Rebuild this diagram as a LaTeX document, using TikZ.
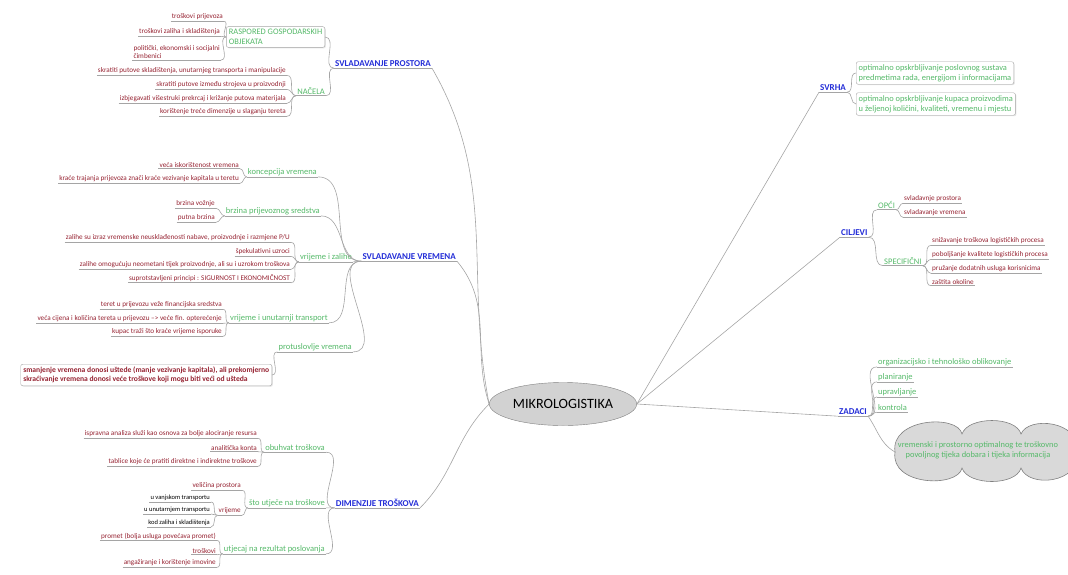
\documentclass[tikz,border=0pt]{standalone}
\usepackage{fontspec}
\setmainfont{Carlito}
\usepackage{tikz}
\usetikzlibrary{calc,positioning,shapes,shadows}
\definecolor{branchblue}{RGB}{35,45,215}
\definecolor{topicgreen}{RGB}{85,185,105}
\definecolor{detailred}{RGB}{150,35,50}
\definecolor{linegray}{RGB}{165,165,165}

\begin{document}
\begin{tikzpicture}[x=1pt, y=-1pt, every node/.style={inner xsep=1pt, inner ysep=1pt}]
      \tikzset{
	  link/.style={draw=linegray, line width=0.6pt},
	  underlined/.style={append after command={(\tikzlastnode.south west) edge[link] (\tikzlastnode.south east)}},
	  root/.style={ellipse, draw=gray, fill=gray!35, minimum width=113, minimum height=43, inner sep=2pt, font=\fontsize{14.2}{16}\selectfont},
	  branch/.style={underlined, text=branchblue, font=\fontsize{9}{11}\selectfont\bfseries},
	  topic/.style={underlined, text=topicgreen, font=\fontsize{8.5}{10}\selectfont},
	  detail/.style={underlined, text=detailred, align=left, font=\fontsize{7.2}{8.6}\selectfont},
	  minor/.style={underlined, text=black, font=\fontsize{6.5}{7.5}\selectfont},
	  topicbox/.style={rectangle, rounded corners=2pt, draw=linegray, fill=white, drop shadow={opacity=0.2, shadow xshift=1pt, shadow yshift=-1pt}, inner sep=2.5pt, align=left, text=topicgreen, font=\fontsize{8.4}{10.2}\selectfont},
	  notebox/.style={topicbox, text=detailred, font=\fontsize{7.6}{9.6}\selectfont\bfseries},
	  cloudpath/.style={draw=gray, fill=gray!30, line width=0.6pt},
	  ideatext/.style={align=center, text=topicgreen, font=\fontsize{8.4}{10.2}\selectfont}
      }
      \useasboundingbox (0,0) rectangle (1068,574);

      \node at (563,404) [root] (root) {MIKROLOGISTIKA};

      \node at (432,64) [branch, anchor=east] (prostora) {SVLADAVANJE PROSTORA};
      \node at (325,37) [topicbox, anchor=east] (raspored) {RASPORED GOSPODARSKIH\\OBJEKATA};
      \node at (224,17) [detail, anchor=east] (ra1) {troškovi prijevoza};
      \node at (221,32) [detail, anchor=east] (ra2) {troškovi zaliha i skladištenja};
      \node at (221,52) [detail, anchor=east] (ra3) {politički, ekonomski i socijalni\\čimbenici};
      \node at (326,91) [topic, anchor=east] (nacela) {NAČELA};
      \node at (287,71) [detail, anchor=east] (n1) {skratiti putove skladištenja, unutarnjeg transporta i manipulacije};
      \node at (287,85) [detail, anchor=east] (n2) {skratiti putove između strojeva u proizvodnji};
      \node at (287,99) [detail, anchor=east] (n3) {izbjegavati višestruki prekrcaj i križanje putova materijala};
      \node at (287,112) [detail, anchor=east] (n4) {korištenje treće dimenzije u slaganju tereta};

      \node at (457,257) [branch, anchor=east] (vremena) {SVLADAVANJE VREMENA};
      \node at (318,172) [topic, anchor=east] (koncepcija) {koncepcija vremena};
      \node at (240,165) [detail, anchor=east] (k1) {veća iskorištenost vremena};
      \node at (240,179) [detail, anchor=east] (k2) {kraće trajanja prijevoza znači kraće vezivanje kapitala u teretu};
      \node at (321,211) [topic, anchor=east] (brzina) {brzina prijevoznog sredstva};
      \node at (216,204) [detail, anchor=east] (b1) {brzina vožnje};
      \node at (216,218) [detail, anchor=east] (b2) {putna brzina};
      \node at (353,257) [topic, anchor=east] (zalihe) {vrijeme i zalihe};
      \node at (291,238) [detail, anchor=east] (z1) {zalihe su izraz vremenske neusklađenosti nabave, proizvodnje i razmjene P/U};
      \node at (291,252) [detail, anchor=east] (z2) {špekulativni uzroci};
      \node at (291,265) [detail, anchor=east] (z3) {zalihe omogućuju neometani tijek proizvodnje, ali su i uzrokom troškova};
      \node at (291,278) [detail, anchor=east] (z4) {suprotstavljeni principi : SIGURNOST I EKONOMIČNOST};
      \node at (329,318) [topic, anchor=east] (transport) {vrijeme i unutarnji transport};
      \node at (223,305) [detail, anchor=east] (u1) {teret u prijevozu veže financijska sredstva};
      \node at (223,319) [detail, anchor=east] (u2) {veća cijena i količina tereta u prijevozu --> veće fin. opterećenje};
      \node at (223,332) [detail, anchor=east] (u3) {kupac traži što kraće vrijeme isporuke};
      \node at (353,347) [topic, anchor=east] (protuslovlje) {protuslovlje vremena};
      \node at (272,375) [notebox, anchor=east] (ustede) {smanjenje vremena donosi uštede (manje vezivanje kapitala), ali prekomjerno\\skraćivanje vremena donosi veće troškove koji mogu biti veći od ušteda};

      \node at (420,503) [branch, anchor=east] (troskovi) {DIMENZIJE TROŠKOVA};
      \node at (326,448) [topic, anchor=east] (obuhvat) {obuhvat troškova};
      \node at (258,434) [detail, anchor=east] (o1) {ispravna analiza služi kao osnova za bolje alociranje resursa};
      \node at (258,448) [detail, anchor=east] (o2) {analitička konta};
      \node at (258,462) [detail, anchor=east] (o3) {tablice koje će pratiti direktne i indirektne troškove};
      \node at (326,503) [topic, anchor=east] (utjece) {što utječe na troškove};
      \node at (242,486) [detail, anchor=east] (w1) {veličina prostora};
      \node at (242,511) [detail, anchor=east] (vrijeme) {vrijeme};
      \node at (211,498) [minor, anchor=east] (v1) {u vanjskom transportu};
      \node at (211,510) [minor, anchor=east] (v2) {u unutarnjem transportu};
      \node at (211,523) [minor, anchor=east] (v3) {kod zaliha i skladištenja};
      \node at (326,549) [topic, anchor=east] (rezultat) {utjecaj na rezultat poslovanja};
      \node at (217,536) [detail, anchor=east] (r1) {promet (bolja usluga povećava promet)};
      \node at (217,551) [detail, anchor=east] (r2) {troškovi};
      \node at (217,563) [detail, anchor=east] (r3) {angažiranje i korištenje imovine};

      \node at (819,88) [branch, anchor=west] (svrha) {SVRHA};
      \node at (856,73) [topicbox, anchor=west] (s1) {optimalno opskrbljivanje poslovnog sustava\\predmetima rada, energijom i informacijama};
      \node at (856,104) [topicbox, anchor=west] (s2) {optimalno opskrbljivanje kupaca proizvodima\\u željenoj količini, kvaliteti, vremenu i mjestu};

      \node at (840,233) [branch, anchor=west] (ciljevi) {CILJEVI};
      \node at (877,205) [topic, anchor=west] (opci) {OPĆI};
      \node at (903,199) [detail, anchor=west] (c1) {svladavnje prostora};
      \node at (903,213) [detail, anchor=west] (c2) {svladavanje vremena};
      \node at (883,261) [topic, anchor=west] (specificni) {SPECIFIČNI};
      \node at (931,241) [detail, anchor=west] (p1) {snižavanje troškova logističkih procesa};
      \node at (931,255) [detail, anchor=west] (p2) {poboljšanje kvalitete logističkih procesa};
      \node at (931,269) [detail, anchor=west] (p3) {pružanje dodatnih usluga korisnicima};
      \node at (931,282) [detail, anchor=west] (p4) {zaštita okoline};

      \node at (838,412) [branch, anchor=west] (zadaci) {ZADACI};
      \node at (877,362) [topic, anchor=west] (d1) {organizacijsko i tehnološko oblikovanje};
      \node at (877,377) [topic, anchor=west] (d2) {planiranje};
      \node at (877,392) [topic, anchor=west] (d3) {upravljanje};
      \node at (877,408) [topic, anchor=west] (d4) {kontrola};
      \draw[cloudpath] (895,452) .. controls (890,418) and (958,414) .. (962,434)
	    .. controls (968,416) and (1016,416) .. (1021,434)
	    .. controls (1028,416) and (1080,420) .. (1078,452)
	    .. controls (1080,484) and (1028,488) .. (1021,468)
	    .. controls (1016,486) and (968,486) .. (962,468)
	    .. controls (958,488) and (890,486) .. cycle;
      \coordinate (cloudedge) at (895,452);
      \node at (978,450) [ideatext] (tijek) {vremenski i prostorno optimalnog te troškovno\\povoljnog tijeka dobara i tijeka informacija};

      \draw[link] (prostora.south east) to[out=-60,in=101] (root.west);
      \draw[link] (vremena.south east) to[out=-50,in=108] (root.west);
      \draw[link] (troskovi.south east) to[out=45,in=-135] (root.west);
      \draw[link] (root.east) -- (svrha.south west);
      \draw[link] (root.east) -- (ciljevi.south west);
      \draw[link] (root.east) -- (zadaci.south west);

      \draw[link] (prostora.south west) to[out=180,in=0] (raspored.east);
      \draw[link] (prostora.south west) to[out=180,in=0] (nacela.south east);
      \foreach \i in {1,2,3} \draw[link] (raspored.west) to[out=180,in=0] (ra\i.south east);
      \foreach \i in {1,...,4} \draw[link] (nacela.south west) to[out=180,in=0] (n\i.south east);

      \foreach \t in {koncepcija,brzina,zalihe,transport,protuslovlje} \draw[link] (vremena.south west) to[out=180,in=0] (\t.south east);
      \foreach \i in {1,2} \draw[link] (koncepcija.south west) to[out=180,in=0] (k\i.south east);
      \foreach \i in {1,2} \draw[link] (brzina.south west) to[out=180,in=0] (b\i.south east);
      \foreach \i in {1,...,4} \draw[link] (zalihe.south west) to[out=180,in=0] (z\i.south east);
      \foreach \i in {1,2,3} \draw[link] (transport.south west) to[out=180,in=0] (u\i.south east);
      \draw[link] (protuslovlje.south west) to[out=180,in=0] (ustede.east);

      \foreach \t in {obuhvat,utjece,rezultat} \draw[link] (troskovi.south west) to[out=180,in=0] (\t.south east);
      \foreach \i in {1,2,3} \draw[link] (obuhvat.south west) to[out=180,in=0] (o\i.south east);
      \foreach \t in {w1,vrijeme} \draw[link] (utjece.south west) to[out=180,in=0] (\t.south east);
      \foreach \i in {1,2,3} \draw[link] (vrijeme.south west) to[out=180,in=0] (v\i.south east);
      \foreach \i in {1,2,3} \draw[link] (rezultat.south west) to[out=180,in=0] (r\i.south east);

      \foreach \i in {1,2} \draw[link] (svrha.south east) to[out=0,in=180] (s\i.west);
      \foreach \t in {opci,specificni} \draw[link] (ciljevi.south east) to[out=0,in=180] (\t.south west);
      \foreach \i in {1,2} \draw[link] (opci.south east) to[out=0,in=180] (c\i.south west);
      \foreach \i in {1,...,4} \draw[link] (specificni.south east) to[out=0,in=180] (p\i.south west);
      \foreach \i in {1,...,4} \draw[link] (zadaci.south east) to[out=0,in=180] (d\i.south west);
      \draw[link] (zadaci.south east) to[out=-55,in=150] (cloudedge);
    \end{tikzpicture}
\end{document}
